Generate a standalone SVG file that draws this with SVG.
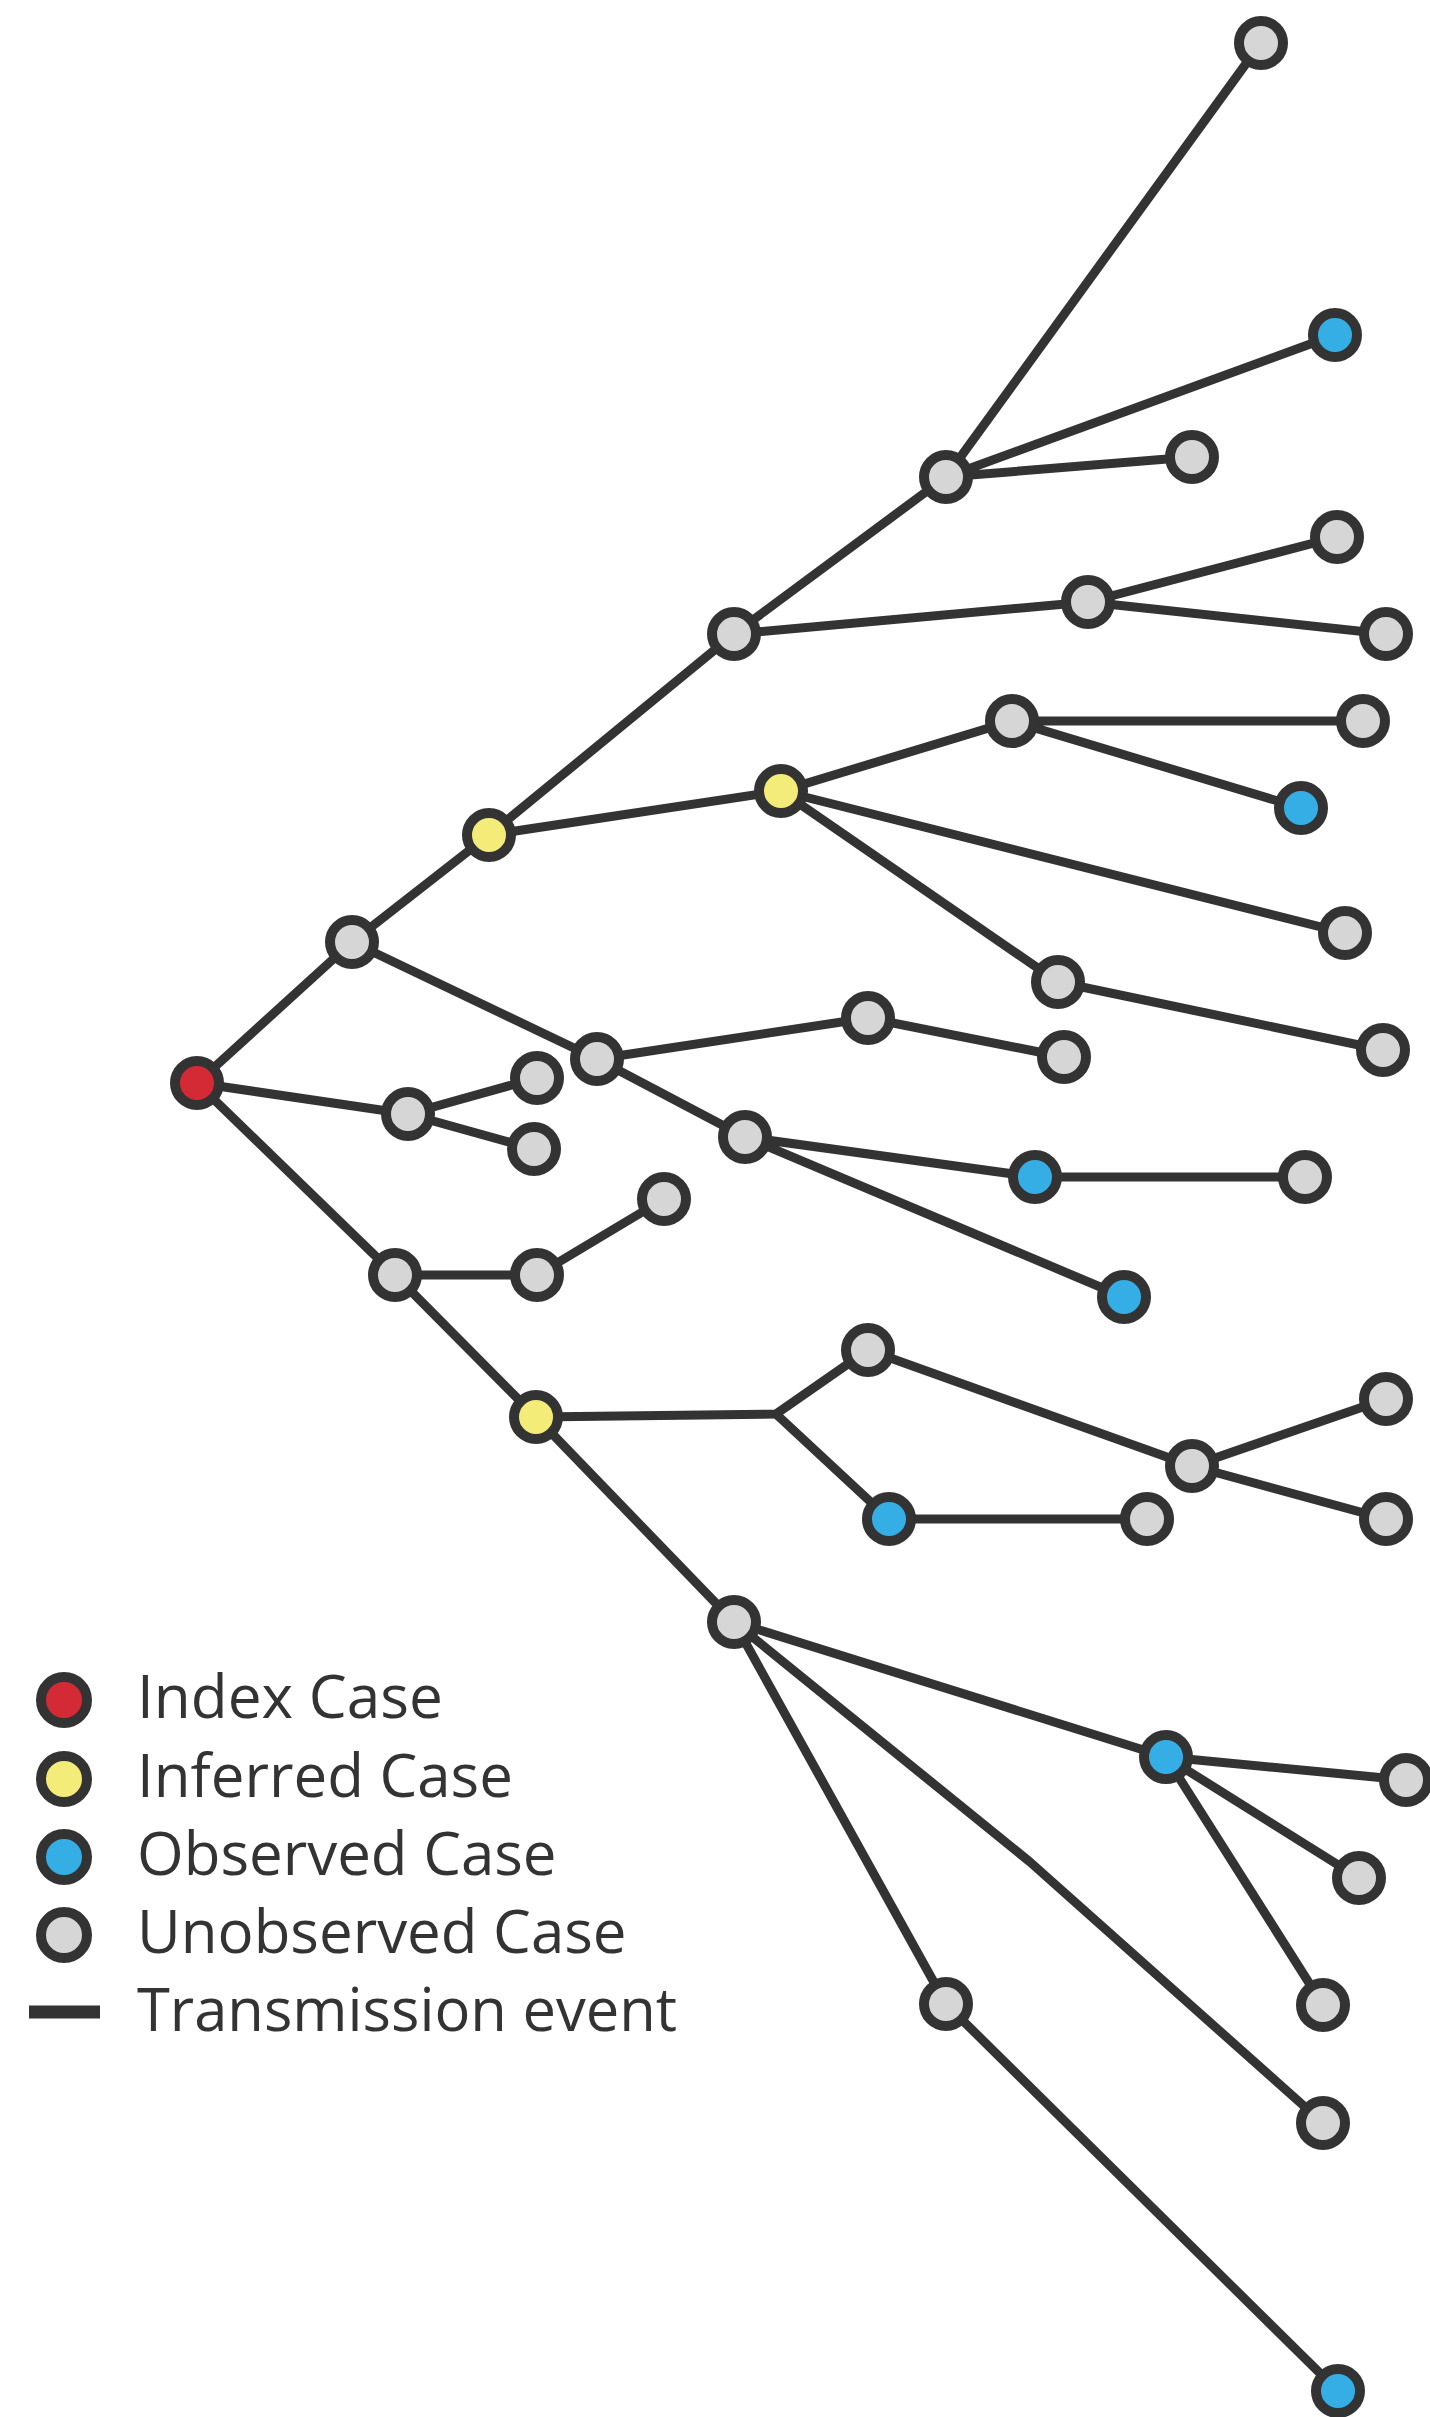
<svg xmlns="http://www.w3.org/2000/svg" width="1430" height="2417" viewBox="0 0 1430 2417">
<style>
.e{stroke:#333;stroke-width:9;fill:none;stroke-linecap:round;stroke-linejoin:round}
.n{stroke:#333;stroke-width:10}
.idx{fill:#d42a35}
.inf{fill:#f4ec78}
.obs{fill:#35aee6}
.uno{fill:#d6d6d6}
.lt{font-family:"Open Sans","Liberation Sans",sans-serif;font-size:60px;fill:#333}
</style>
<rect width="1430" height="2417" fill="#fff"/>
<g id="connectors">
<path class="e" d="M197,1083 L352,942 L489,835 L734,634 L946,477 L1261,43"/>
<path class="e" d="M946,477 L1335,335 M946,477 L1192,457"/>
<path class="e" d="M734,634 L1088,602 L1337,537 M1088,602 L1386,634"/>
<path class="e" d="M489,835 L781,791 L1012,721 L1363,721 M1012,721 L1301,808"/>
<path class="e" d="M781,791 L1345,933 M781,791 L1058,982 L1383,1050"/>
<path class="e" d="M352,942 L597,1059 L868,1018 L1064,1057"/>
<path class="e" d="M597,1059 L745,1137 L1035,1177 L1305,1177 M745,1137 L1124,1297"/>
<path class="e" d="M197,1083 L408,1114 L537,1078 M408,1114 L534,1149"/>
<path class="e" d="M197,1083 L395,1275 L537,1275 L664,1199"/>
<path class="e" d="M395,1275 L536,1417 L776,1414 L868,1350 L1192,1466 L1386,1399 M1192,1466 L1386,1519"/>
<path class="e" d="M776,1414 L889,1519 L1147,1519"/>
<path class="e" d="M536,1417 L734,1622 L1166,1757 L1406,1780 M1166,1757 L1359,1878 M1166,1757 L1323,2005"/>
<path class="e" d="M734,1622 L1030,1862 L1323,2123"/>
<path class="e" d="M734,1622 L946,2004 L1338,2391"/>
</g>
<g id="nodes">
<g id="n-index"><circle class="n idx" cx="197" cy="1083" r="22"/></g>
<g id="n-A"><circle class="n uno" cx="352" cy="942" r="22"/></g>
<g id="n-Y1"><circle class="n inf" cx="489" cy="835" r="22"/></g>
<g id="n-B"><circle class="n uno" cx="734" cy="634" r="22"/></g>
<g id="n-C"><circle class="n uno" cx="946" cy="477" r="22"/></g>
<g id="n-C1"><circle class="n uno" cx="1261" cy="43" r="22"/></g>
<g id="n-C2"><circle class="n obs" cx="1335" cy="335" r="22"/></g>
<g id="n-C3"><circle class="n uno" cx="1192" cy="457" r="22"/></g>
<g id="n-D"><circle class="n uno" cx="1088" cy="602" r="22"/></g>
<g id="n-D1"><circle class="n uno" cx="1337" cy="537" r="22"/></g>
<g id="n-D2"><circle class="n uno" cx="1386" cy="634" r="22"/></g>
<g id="n-Y2"><circle class="n inf" cx="781" cy="791" r="22"/></g>
<g id="n-E"><circle class="n uno" cx="1012" cy="721" r="22"/></g>
<g id="n-E1"><circle class="n uno" cx="1363" cy="721" r="22"/></g>
<g id="n-E2"><circle class="n obs" cx="1301" cy="808" r="22"/></g>
<g id="n-F"><circle class="n uno" cx="1345" cy="933" r="22"/></g>
<g id="n-G"><circle class="n uno" cx="1058" cy="982" r="22"/></g>
<g id="n-G1"><circle class="n uno" cx="1383" cy="1050" r="22"/></g>
<g id="n-H"><circle class="n uno" cx="597" cy="1059" r="22"/></g>
<g id="n-H1"><circle class="n uno" cx="868" cy="1018" r="22"/></g>
<g id="n-H2"><circle class="n uno" cx="1064" cy="1057" r="22"/></g>
<g id="n-I"><circle class="n uno" cx="745" cy="1137" r="22"/></g>
<g id="n-I1"><circle class="n obs" cx="1035" cy="1177" r="22"/></g>
<g id="n-I2"><circle class="n uno" cx="1305" cy="1177" r="22"/></g>
<g id="n-I3"><circle class="n obs" cx="1124" cy="1297" r="22"/></g>
<g id="n-J"><circle class="n uno" cx="408" cy="1114" r="22"/></g>
<g id="n-J1"><circle class="n uno" cx="537" cy="1078" r="22"/></g>
<g id="n-J2"><circle class="n uno" cx="534" cy="1149" r="22"/></g>
<g id="n-K"><circle class="n uno" cx="395" cy="1275" r="22"/></g>
<g id="n-K1"><circle class="n uno" cx="537" cy="1275" r="22"/></g>
<g id="n-K2"><circle class="n uno" cx="664" cy="1199" r="22"/></g>
<g id="n-Y3"><circle class="n inf" cx="536" cy="1417" r="22"/></g>
<g id="n-L"><circle class="n uno" cx="868" cy="1350" r="22"/></g>
<g id="n-Lb"><circle class="n obs" cx="889" cy="1519" r="22"/></g>
<g id="n-L2"><circle class="n uno" cx="1147" cy="1519" r="22"/></g>
<g id="n-M"><circle class="n uno" cx="1192" cy="1466" r="22"/></g>
<g id="n-M1"><circle class="n uno" cx="1386" cy="1399" r="22"/></g>
<g id="n-M2"><circle class="n uno" cx="1386" cy="1519" r="22"/></g>
<g id="n-N"><circle class="n uno" cx="734" cy="1622" r="22"/></g>
<g id="n-O"><circle class="n obs" cx="1166" cy="1757" r="22"/></g>
<g id="n-O1"><circle class="n uno" cx="1406" cy="1780" r="22"/></g>
<g id="n-O2"><circle class="n uno" cx="1359" cy="1878" r="22"/></g>
<g id="n-O3"><circle class="n uno" cx="1323" cy="2005" r="22"/></g>
<g id="n-P"><circle class="n uno" cx="1323" cy="2123" r="22"/></g>
<g id="n-Q"><circle class="n uno" cx="946" cy="2004" r="22"/></g>
<g id="n-Q1"><circle class="n obs" cx="1338" cy="2391" r="22"/></g>
</g>
<g id="legend">
<circle class="n idx" cx="64" cy="1700" r="23"/>
<circle class="n inf" cx="64" cy="1779" r="23"/>
<circle class="n obs" cx="64" cy="1857" r="23"/>
<circle class="n uno" cx="64" cy="1935" r="23"/>
<line x1="29" y1="2012" x2="100" y2="2012" stroke="#333" stroke-width="13"/>
<text class="lt" x="137" y="1718" textLength="306" lengthAdjust="spacingAndGlyphs">Index Case</text>
<text class="lt" x="137" y="1797">Inferred Case</text>
<text class="lt" x="137" y="1875">Observed Case</text>
<text class="lt" x="137" y="1953">Unobserved Case</text>
<text class="lt" x="137" y="2031" textLength="540" lengthAdjust="spacingAndGlyphs">Transmission event</text>
</g>
</svg>
